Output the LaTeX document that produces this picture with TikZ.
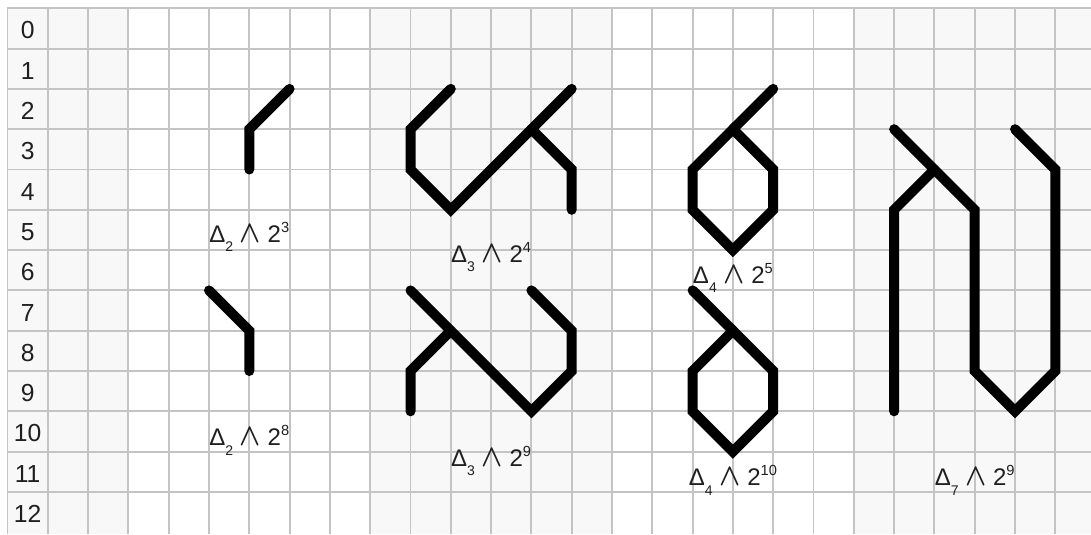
\documentclass[tikz,border=0pt]{standalone}
\usepackage{fontspec}
\setmainfont{Liberation Sans}
\usepackage{graphicx}
\usepackage{xcolor}
\usepackage{tikz}
\definecolor{rulec}{HTML}{C4C4C4}
\definecolor{shadec}{HTML}{F8F8F8}
\definecolor{numc}{HTML}{1F1F1F}
\definecolor{runec}{HTML}{000000}
\newcommand{\runelab}[2]{Δ\raisebox{-7pt}{\fontsize{10.5}{11}\selectfont #1} \scalebox{1.2}[1.35]{\boldmath$\wedge$} 2\raisebox{7.5pt}{\fontsize{11}{11}\selectfont #2}}
\tikzset{
  cellrule/.style={draw=rulec,line width=1.4pt},
  band/.style={fill=shadec},
  rune/.style={draw=runec,line width=7.5pt,line cap=round,line join=miter},
  rowlab/.style={inner sep=0pt,text=numc,font=\fontsize{18.5}{20}\selectfont},
  glab/.style={anchor=base,inner sep=0pt,text=black!88,font=\fontsize{18}{19}\selectfont},
}

\begin{document}
\begin{tikzpicture}[x=30.225pt,y=-30.225pt]
  \useasboundingbox (-0.186,-0.206) rectangle (26.886,13.045);
  % sheet: shaded bands, rules, row numbers
  \foreach \a/\b in {0/3,9/15,21/26.886} \fill[band] (\a,0) rectangle (\b,13.045);
  \foreach \j in {0,...,26} \draw[cellrule] (\j,0) -- (\j,13.045);
  \foreach \i in {0,...,12} \draw[cellrule] (0,\i) -- (26.886,\i);
  \foreach \i in {0,...,12} \node[rowlab] (r\i) at (0.5,\i+0.55) {\i};

  % upper row
  \draw[rune] (7,2) -- (6,3) -- (6,4);
  \draw[rune] (11,2) -- (10,3) -- (10,4) -- (11,5) -- (14,2);
  \draw[rune] (13,3) -- (14,4) -- (14,5);
  \draw[rune] (19,2) -- (18,3);
  \draw[rune] (18,3) -- (17,4) -- (17,5) -- (18,6) -- (19,5) -- (19,4) -- cycle;
  \draw[rune] (22,3) -- (24,5) -- (24,9) -- (25,10) -- (26,9) -- (26,4) -- (25,3);
  \draw[rune] (23,4) -- (22,5) -- (22,10);

  % lower row
  \draw[rune] (5,7) -- (6,8) -- (6,9);
  \draw[rune] (10,7) -- (13,10) -- (14,9) -- (14,8) -- (13,7);
  \draw[rune] (11,8) -- (10,9) -- (10,10);
  \draw[rune] (17,7) -- (18,8);
  \draw[rune] (18,8) -- (17,9) -- (17,10) -- (18,11) -- (19,10) -- (19,9) -- cycle;

  % labels
  \node[glab] (l23) at (6,5.80) {\runelab{2}{3}};
  \node[glab] (l34) at (12,6.30) {\runelab{3}{4}};
  \node[glab] (l45) at (18,6.82) {\runelab{4}{5}};
  \node[glab] (l28) at (6,10.86) {\runelab{2}{8}};
  \node[glab] (l39) at (12,11.36) {\runelab{3}{9}};
  \node[glab] (l410) at (18,11.85) {\runelab{4}{10}};
  \node[glab] (l79) at (24,11.85) {\runelab{7}{9}};
\end{tikzpicture}
\end{document}
